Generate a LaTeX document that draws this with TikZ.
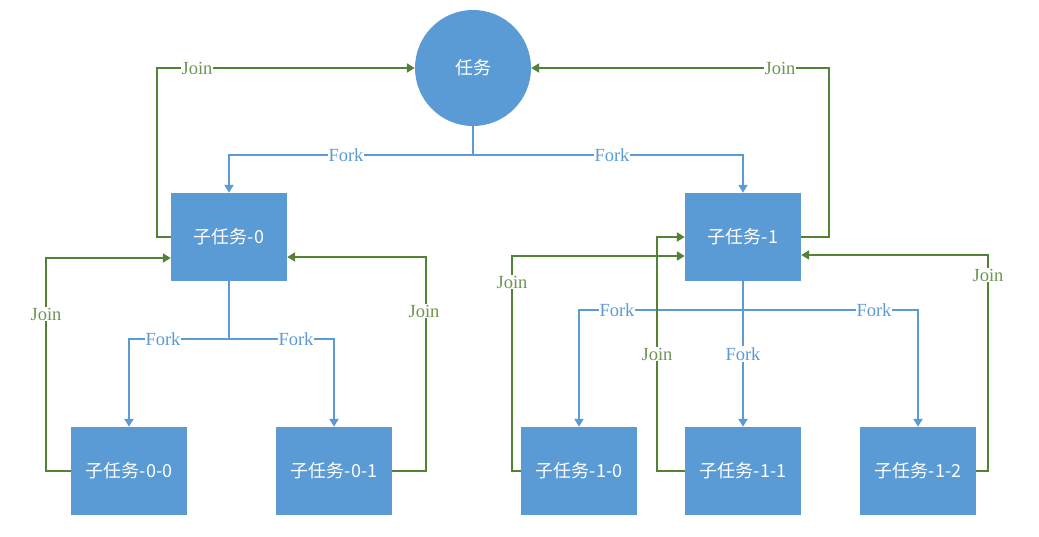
\documentclass[tikz,border=0pt]{standalone}
\usepackage{fontspec}
\setmainfont{Liberation Serif}
\newfontfamily\cjk{Noto Sans CJK SC}
\usetikzlibrary{arrows.meta}

\definecolor{taskblue}{HTML}{5B9BD5}
\definecolor{joingreen}{HTML}{548235}

\tikzset{
  taskbox/.style={fill=taskblue,draw=none,minimum width=116pt,minimum height=88pt,
    inner sep=0pt,text=white,font=\cjk\fontsize{18}{20}\selectfont},
  taskcirc/.style={taskbox,circle,minimum size=116pt},
  forkline/.style={draw=taskblue,line width=2pt,-{Triangle[width=9pt,length=8pt]}},
  joinline/.style={draw=joingreen,line width=2pt,-{Triangle[width=9pt,length=8pt]}},
  forklbl/.style={fill=white,inner sep=1pt,text=taskblue,font=\fontsize{18.5}{20}\selectfont},
  joinlbl/.style={forklbl,text=joingreen!85}
}

\begin{document}
\begin{tikzpicture}[x=1pt,y=-1pt]
  \useasboundingbox (0,0) rectangle (1039,536);

  % tasks
  \node[taskcirc] (task) at (473,68) {任务};
  \node[taskbox] (sub0) at (229,237) {子任务-0};
  \node[taskbox] (sub1) at (743,237) {子任务-1};
  \node[taskbox] (s00) at (129,471) {子任务-0-0};
  \node[taskbox] (s01) at (334,471) {子任务-0-1};
  \node[taskbox] (s10) at (579,471) {子任务-1-0};
  \node[taskbox] (s11) at (743,471) {子任务-1-1};
  \node[taskbox] (s12) at (918,471) {子任务-1-2};

  % fork
  \coordinate (f) at (473,155);
  \draw[forkline] (task.south) -- (f) -| (sub0.north);
  \draw[forkline] (f) -| (sub1.north);
  \coordinate (f0) at (229,339);
  \draw[forkline] (sub0.south) -- (f0) -| (s00.north);
  \draw[forkline] (f0) -| (s01.north);
  \coordinate (f1) at (743,310);
  \draw[forkline] (sub1.south) -- (f1) -| (s10.north);
  \draw[forkline] (f1) -| (s12.north);
  \draw[forkline] (f1) -- (s11.north);

  % join
  \draw[joinline] (sub0.west) -- (157,237) |- (task.west);
  \draw[joinline] (sub1.east) -- (829,237) |- (task.east);
  \draw[joinline] (s00.west) -- (46,471) |- ([yshift=-21pt]sub0.west);
  \draw[joinline] (s01.east) -- (426,471) |- ([yshift=-20pt]sub0.east);
  \draw[joinline] (s10.west) -- (512,471) |- ([yshift=-19pt]sub1.west);
  \draw[joinline] (s11.west) -- (657,471) |- (sub1.west);
  \draw[joinline] (s12.east) -- (988,471) |- ([yshift=-18pt]sub1.east);

  % labels
  \node[forklbl] (lf1) at (346,155) {Fork};
  \node[forklbl] (lf2) at (612,155) {Fork};
  \node[forklbl] (lf3) at (163,339) {Fork};
  \node[forklbl] (lf4) at (296,339) {Fork};
  \node[forklbl] (lf5) at (617,310) {Fork};
  \node[forklbl] (lf6) at (874,310) {Fork};
  \node[forklbl] (lf7) at (743,354) {Fork};
  \node[joinlbl] (lj1) at (197,68) {Join};
  \node[joinlbl] (lj2) at (780,68) {Join};
  \node[joinlbl] (lj3) at (46,314) {Join};
  \node[joinlbl] (lj4) at (424,311) {Join};
  \node[joinlbl] (lj5) at (512,282) {Join};
  \node[joinlbl] (lj6) at (657,354) {Join};
  \node[joinlbl] (lj7) at (988,275) {Join};
\end{tikzpicture}
\end{document}
